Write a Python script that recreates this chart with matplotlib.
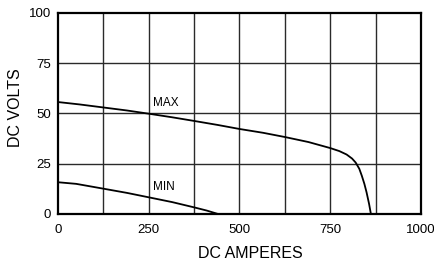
import matplotlib
matplotlib.use("Agg")
import matplotlib.pyplot as plt
from matplotlib import font_manager

names = {f.name for f in font_manager.fontManager.ttflist}
fam = "Liberation Sans Narrow" if "Liberation Sans Narrow" in names else "Liberation Sans"
plt.rcParams['font.family'] = [fam, 'DejaVu Sans']

# Data
max_amps = [0, 60, 125, 190, 250, 315, 375, 440, 500, 565, 625, 690, 750, 775, 795, 810, 820, 830, 837, 844, 850, 857, 862]
max_volts = [55.7, 54.5, 53.0, 51.5, 49.9, 48.1, 46.3, 44.3, 42.3, 40.4, 38.3, 35.8, 32.8, 31.3, 29.6, 27.6, 25.6, 22.5, 19.0, 15.0, 10.8, 5.0, 0]
min_amps = [0, 50, 125, 190, 250, 315, 375, 410, 441]
min_volts = [15.8, 15.0, 12.6, 10.5, 8.3, 5.9, 3.3, 1.7, 0]
x_ticks = [0, 250, 500, 750, 1000]
y_ticks = [0, 25, 50, 75, 100]
x_grid = [125, 250, 375, 500, 625, 750, 875]
y_grid = [25, 50, 75]

fig = plt.figure(figsize=(4.35, 2.65), dpi=100)
ax = fig.add_axes([58/435, 51/265, 363/435, 201/265])
ax.set_xlim(0, 1000)
ax.set_ylim(0, 100)
for xv in x_grid:
    ax.axvline(xv, color='#2a2a2a', lw=1.0, zorder=1)
for yv in y_grid:
    ax.axhline(yv, color='#2a2a2a', lw=1.0, zorder=1)
ax.plot(max_amps, max_volts, color='black', lw=1.3, zorder=3)
ax.plot(min_amps, min_volts, color='black', lw=1.3, zorder=3)
ax.text(262, 55, 'MAX', fontsize=8.5, va='center', ha='left')
ax.text(262, 13.3, 'MIN', fontsize=8.5, va='center', ha='left')
ax.set_xticks(x_ticks)
ax.set_yticks(y_ticks)
ax.tick_params(length=0, labelsize=9.5)
ax.tick_params(axis='x', pad=7)
ax.tick_params(axis='y', pad=5)
for s in ax.spines.values():
    s.set_linewidth(1.6)
    s.set_color('black')
ax.set_xlabel('DC AMPERES', fontsize=11.5, va='center')
ax.set_ylabel('DC VOLTS', fontsize=11.5, va='center')
ax.xaxis.set_label_coords(0.529, -0.199)
ax.yaxis.set_label_coords(-0.118, 0.53)
fig.savefig('out.png', dpi=100)
